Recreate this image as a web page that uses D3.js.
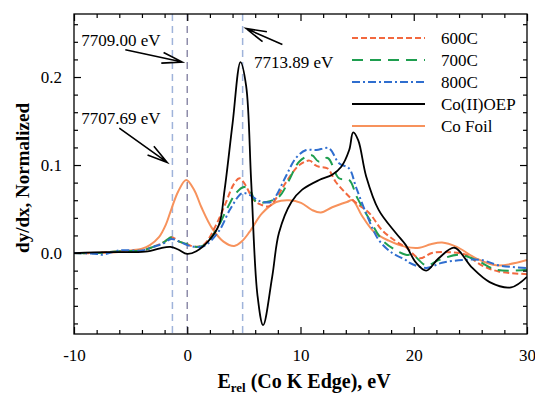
<!DOCTYPE html>
<html>
<head>
<meta charset="utf-8">
<script src="https://cdn.jsdelivr.net/npm/d3@7"></script>
<style>
  body { margin: 0; background: #fff; }
  text { font-family: "Liberation Serif", "Times New Roman", serif; }
</style>
</head>
<body>
<svg id="chart" width="535" height="396"></svg>
<script>
// data, [E_rel (eV), dy/dx]
var coOEP = [[-10,0],[-7,0.001],[-5,0.001],[-3.5,0.002],[-2.5,0.005],[-1.5,0.007],[-0.8,0.004],[0,-0.001],
  [0.8,0.002],[1.9,0.014],[2.8,0.032],[3.3,0.072],[4.0,0.147],[4.7,0.217],[5.2,0.19],[5.65,0.08],[6.2,-0.048],
  [6.7,-0.082],[7.5,-0.027],[8.1,0.023],[9.2,0.058],[10.15,0.072],[11.65,0.083],[12.8,0.089],[13.6,0.098],
  [14.3,0.117],[14.65,0.137],[15.1,0.128],[15.8,0.087],[16.9,0.049],[18.4,0.023],[19.3,0.009],[20.2,-0.011],
  [21.1,-0.02],[22.2,-0.006],[23.6,0.006],[25.1,-0.016],[26.7,-0.033],[28.6,-0.039],[30,-0.027]];

var coFoil = [[-10,0],[-7,0.0005],[-5,0.003],[-4,0.005],[-3.3,0.009],[-2.5,0.018],[-1.9,0.032],[-1.4,0.05],
  [-0.8,0.07],[-0.1,0.083],[0.6,0.072],[1.25,0.052],[2.2,0.028],[3.2,0.013],[4.15,0.008],[4.8,0.013],[5.5,0.024],
  [6.6,0.045],[7.85,0.058],[9,0.06],[10.05,0.057],[11,0.049],[11.8,0.046],[12.8,0.052],[14.1,0.058],[14.6,0.06],
  [15.4,0.043],[16.5,0.024],[17.8,0.014],[19.3,0.007],[20.5,0.006],[21.5,0.01],[22.5,0.012],[23.8,0.007],
  [25.5,-0.006],[27.3,-0.014],[30,-0.008]];

var s600 = [[-10,0],[-8,0],[-6,0.002],[-4,0.003],[-3,0.007],[-2.1,0.012],[-1.4,0.018],[-0.7,0.013],[0,0.01],
  [0.7,0.007],[1.5,0.01],[2.55,0.032],[3.4,0.057],[4.1,0.078],[4.6,0.085],[5,0.08],[5.9,0.06],[6.5,0.055],
  [7.2,0.053],[8,0.065],[8.7,0.08],[9.9,0.1],[10.8,0.105],[11.3,0.1],[11.65,0.098],[12.4,0.096],[13.1,0.081],
  [14,0.068],[14.9,0.057],[16.1,0.045],[17.2,0.026],[18.7,0.011],[19.3,0.007],[20.5,-0.006],[21.6,0],
  [23.1,0.001],[24.6,-0.002],[26,-0.014],[27.5,-0.021],[30,-0.024]];

var s700 = [[-10,0],[-8,0],[-6,0.002],[-4,0.003],[-3,0.007],[-2.1,0.012],[-1.4,0.018],[-0.7,0.013],[0,0.01],
  [0.7,0.007],[1.5,0.009],[2.6,0.027],[3.5,0.05],[4.3,0.068],[5,0.075],[5.5,0.072],[6.1,0.058],[7,0.058],
  [8.1,0.064],[9,0.083],[9.9,0.104],[11,0.111],[11.6,0.104],[12.4,0.108],[13.4,0.085],[14.3,0.083],[15,0.063],
  [16.1,0.038],[17.2,0.015],[18.3,0.004],[19.3,-0.002],[19.9,-0.002],[21.1,-0.014],[22.2,-0.008],[24,-0.002],
  [25.5,-0.008],[27.3,-0.019],[30,-0.019]];

var s800 = [[-10,0],[-8,-0.001],[-7.5,-0.002],[-6,0.003],[-4,0.003],[-3,0.007],[-2.1,0.011],[-1.4,0.016],
  [-0.7,0.013],[0,0.009],[0.7,0.007],[1.5,0.008],[2.8,0.025],[3.8,0.05],[4.85,0.068],[5.5,0.066],[6.4,0.059],
  [7.4,0.058],[7.8,0.064],[8.7,0.087],[9.6,0.108],[10.5,0.117],[11.4,0.117],[12.5,0.119],[13.4,0.102],
  [14.3,0.096],[14.9,0.075],[15.8,0.045],[16.9,0.015],[18.1,0],[19.3,-0.008],[19.6,-0.011],[21.1,-0.017],
  [22.5,-0.011],[24.3,-0.008],[26,-0.008],[27.5,-0.014],[30,-0.017]];

var seriesNames = ["600C", "700C", "800C", "Co(II)OEP", "Co Foil"];
var edgeLines = [-1.31, 0, 4.89];
var xTicks = [-10, 0, 10, 20, 30];
var yTicks = [0.0, 0.1, 0.2];
var notes = [
  { label: "7709.00 eV", text: [-9.36, 0.242], from: [-5.47, 0.231], to: [-0.44, 0.217] },
  { label: "7707.69 eV", text: [-9.36, 0.153], from: [-6.0, 0.142], to: [-1.77, 0.103] },
  { label: "7713.89 eV", text: [5.9, 0.217], from: [8.4, 0.237], to: [5.2, 0.255] }
];

var series = [
  { name: seriesNames[0], values: s600, color: "#f2683e", dash: "6,3", width: 2 },
  { name: seriesNames[1], values: s700, color: "#1e9e4f", dash: "11,7", width: 2 },
  { name: seriesNames[2], values: s800, color: "#2f6ecf", dash: "8,3,2,3", width: 2 },
  { name: seriesNames[3], values: coOEP, color: "#000000", dash: null, width: 1.8 },
  { name: seriesNames[4], values: coFoil, color: "#f7925c", dash: null, width: 2 }
];

var margin = { left: 74, top: 14, right: 8, bottom: 62 };
var width = 535 - margin.left - margin.right,
    height = 396 - margin.top - margin.bottom;

var svg = d3.select("#chart");
var g = svg.append("g").attr("transform", "translate(" + margin.left + "," + margin.top + ")");

var x = d3.scaleLinear().domain([-10, 30]).range([0, width]);
var y = d3.scaleLinear().domain([-0.092, 0.2716]).range([height, 0]);

// clip curves to the frame
g.append("clipPath").attr("id", "clip")
  .append("rect").attr("width", width).attr("height", height);

//
// vertical edge markers
//
g.selectAll(".edge").data(edgeLines).enter().append("line")
  .attr("class", "edge")
  .attr("x1", function (d) { return x(d); })
  .attr("x2", function (d) { return x(d); })
  .attr("y1", 0).attr("y2", height)
  .style("stroke", function (d) { return d === 0 ? "#8e8caa" : "#9fb3da"; })
  .style("stroke-width", 1.5)
  .style("stroke-dasharray", "7,5");

//
// curves
//
var line = d3.line()
  .x(function (d) { return x(d[0]); })
  .y(function (d) { return y(d[1]); })
  .curve(d3.curveCatmullRom.alpha(0.5));

// draw foil first, then samples, then OEP on top
var drawOrder = [4, 0, 1, 2, 3];
g.append("g").attr("clip-path", "url(#clip)")
  .selectAll(".curve").data(drawOrder.map(function (i) { return series[i]; }))
  .enter().append("path")
  .attr("class", "curve")
  .attr("d", function (d) { return line(d.values); })
  .style("fill", "none")
  .style("stroke", function (d) { return d.color; })
  .style("stroke-width", function (d) { return d.width; })
  .style("stroke-dasharray", function (d) { return d.dash; });

//
// axes, ticks inward on all four sides
//
function minorTicks(lo, hi, step) {
  var out = [];
  for (var v = lo; v <= hi + 1e-9; v += step) out.push(+v.toFixed(4));
  return out;
}
var xMinor = minorTicks(-10, 30, 2).filter(function (v) { return xTicks.indexOf(v) < 0; });
var yMinor = minorTicks(-0.08, 0.26, 0.02).filter(function (v) {
  return yTicks.every(function (t) { return Math.abs(t - v) > 1e-6; });
});

function addAxis(axis, transform, withLabels) {
  var a = g.append("g").attr("transform", transform).call(axis);
  a.select(".domain").remove();
  a.selectAll("line").style("stroke", "#000").style("stroke-width", 1.2);
  if (!withLabels) a.selectAll("text").remove();
  else a.selectAll("text").style("font-size", "17px").style("fill", "#000")
    .style("font-family", "'Liberation Serif', serif");
  return a;
}

// plain hyphen for negatives, as in the figure
var intFmt = function (d) { return String(d); };

addAxis(d3.axisBottom(x).tickValues(xTicks).tickSize(-7).tickPadding(15)
  .tickFormat(intFmt), "translate(0," + height + ")", true);
addAxis(d3.axisBottom(x).tickValues(xMinor).tickSize(-4), "translate(0," + height + ")", false);
addAxis(d3.axisTop(x).tickValues(xTicks).tickSize(-7), "translate(0,0)", false);
addAxis(d3.axisTop(x).tickValues(xMinor).tickSize(-4), "translate(0,0)", false);
addAxis(d3.axisLeft(y).tickValues(yTicks).tickSize(-7).tickPadding(12)
  .tickFormat(d3.format(".1f")), "translate(0,0)", true);
addAxis(d3.axisLeft(y).tickValues(yMinor).tickSize(-4), "translate(0,0)", false);
addAxis(d3.axisRight(y).tickValues(yTicks).tickSize(-7), "translate(" + width + ",0)", false);
addAxis(d3.axisRight(y).tickValues(yMinor).tickSize(-4), "translate(" + width + ",0)", false);

g.append("rect")
  .attr("width", width).attr("height", height)
  .style("fill", "none").style("stroke", "#000").style("stroke-width", 1.3);

//
// annotations with open arrowheads
//
function arrowPath(p0, p1) {
  var x0 = x(p0[0]), y0 = y(p0[1]), x1 = x(p1[0]), y1 = y(p1[1]);
  var ang = Math.atan2(y1 - y0, x1 - x0), len = 21, spread = 15 * Math.PI / 180;
  var ax = x1 - len * Math.cos(ang - spread), ay = y1 - len * Math.sin(ang - spread);
  var bx = x1 - len * Math.cos(ang + spread), by = y1 - len * Math.sin(ang + spread);
  return "M" + x0 + "," + y0 + "L" + x1 + "," + y1 +
    "M" + ax + "," + ay + "L" + x1 + "," + y1 + "L" + bx + "," + by;
}

var note = g.selectAll(".note").data(notes).enter().append("g").attr("class", "note");
note.append("text")
  .attr("x", function (d) { return x(d.text[0]); })
  .attr("y", function (d) { return y(d.text[1]); })
  .attr("dy", "0.35em")
  .style("font-size", "17px")
  .text(function (d) { return d.label; });
note.append("path")
  .attr("d", function (d) { return arrowPath(d.from, d.to); })
  .style("fill", "none").style("stroke", "#000").style("stroke-width", 1.6);

//
// legend
//
var legend = g.selectAll(".legend").data(series).enter().append("g")
  .attr("class", "legend")
  .attr("transform", function (d, i) { return "translate(278," + (24 + i * 22) + ")"; });
legend.append("line")
  .attr("x1", 0).attr("x2", 73)
  .style("stroke", function (d) { return d.color; })
  .style("stroke-width", 2)
  .style("stroke-dasharray", function (d) { return d.dash; });
legend.append("text")
  .attr("x", 89).attr("dy", "0.35em")
  .style("font-size", "17px")
  .text(function (d) { return d.name; });

//
// axis titles
//
var xTitle = svg.append("text")
  .attr("x", 304).attr("y", 388)
  .attr("text-anchor", "middle")
  .style("font-size", "20px").style("font-weight", "bold");
xTitle.append("tspan").text("E");
xTitle.append("tspan").attr("dy", 4).style("font-size", "13px").text("rel");
xTitle.append("tspan").attr("dy", -4).text(" (Co K Edge), eV");

svg.append("text")
  .attr("transform", "translate(29,178) rotate(-90)")
  .attr("text-anchor", "middle")
  .style("font-size", "19px").style("font-weight", "bold")
  .text("dy/dx, Normalized");
</script>
</body>
</html>
